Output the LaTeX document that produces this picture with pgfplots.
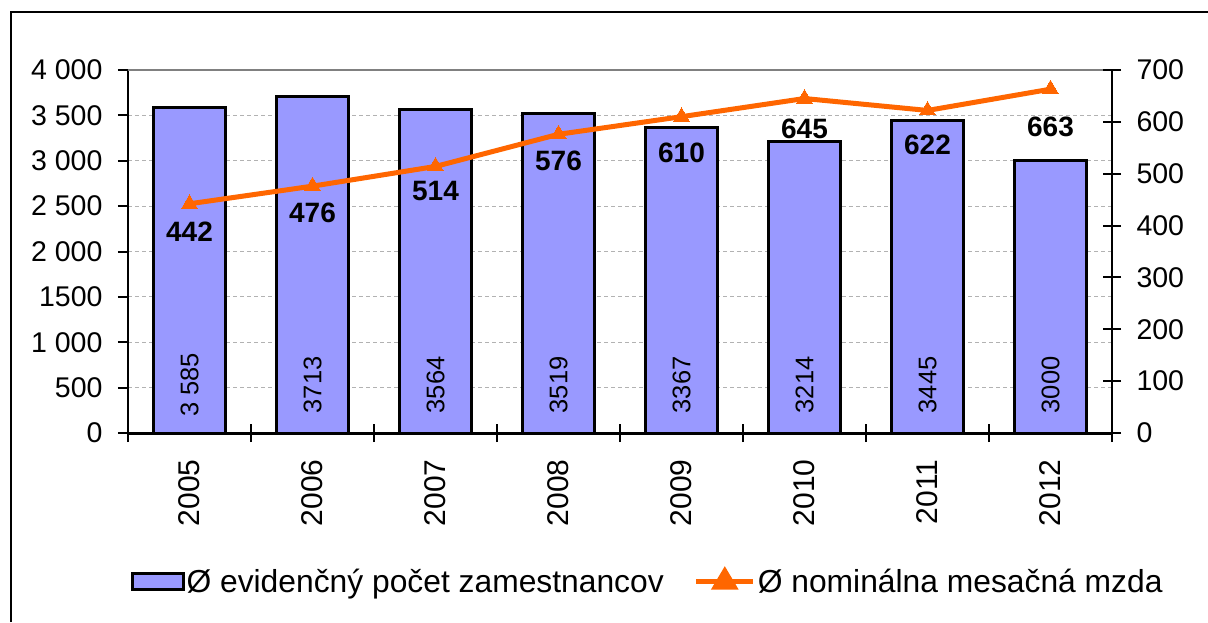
\documentclass[border=0pt]{standalone}
\usepackage{pgfplots}
\pgfplotsset{compat=1.18}
\usepackage{fontspec}
\setmainfont{Liberation Sans}
\definecolor{barfill}{HTML}{9999FF}
\definecolor{lineor}{HTML}{FF6600}
\begin{document}
\begin{tikzpicture}[x=1pt,y=1pt]
\path[use as bounding box] (0,0) rectangle (1208,622);
\draw[line width=2.5pt] (11,0) -- (11,610) -- (1208,610);
\begin{axis}[
  at={(128pt,189pt)}, anchor=south west, scale only axis,
  width=984pt, height=363pt,
  xmin=-0.5, xmax=7.5, ymin=0, ymax=4000,
  axis x line*=bottom, axis y line*=left,
  x axis line style={-, line width=3pt, black},
  y axis line style={-, line width=2pt, black},
  xtick=\empty,
  ytick={0,500,...,4000},
  yticklabels={0,500,1 000,1500,2 000,2 500,3 000,3 500,4 000},
  tick align=outside, major tick length=10pt,
  tick style={black, line width=2pt},
  yticklabel style={font=\fontsize{28.5}{30}\selectfont},
  yticklabel shift=12pt,
  ymajorgrids, grid style={dash pattern=on 4pt off 3pt, black!30, line width=1pt},
  clip=false,
]
\draw[black!50, line width=2pt] (rel axis cs:0,1) -- (rel axis cs:1,1);
\draw[black!50, line width=1.5pt] (rel axis cs:1,0) -- (rel axis cs:1,1);
\addplot[ybar, bar width=72pt, fill=barfill, draw=black, line width=3pt]
  coordinates {(0,3585) (1,3713) (2,3564) (3,3519) (4,3367) (5,3214) (6,3445) (7,3000)};
\begin{scope}[every node/.style={rotate=90, font=\fontsize{25.5}{27}\selectfont}]
\node at (axis cs:0,530) {3 585};
\node at (axis cs:1,530) {3713};
\node at (axis cs:2,530) {3564};
\node at (axis cs:3,530) {3519};
\node at (axis cs:4,530) {3367};
\node at (axis cs:5,530) {3214};
\node at (axis cs:6,530) {3445};
\node at (axis cs:7,530) {3000};
\end{scope}
\end{axis}
\begin{axis}[
  at={(128pt,189pt)}, anchor=south west, scale only axis,
  width=984pt, height=363pt,
  xmin=-0.5, xmax=7.5, ymin=0, ymax=700,
  axis y line*=right, axis x line*=bottom,
  x axis line style={-, line width=3pt, black},
  y axis line style={-, line width=2pt, black},
  xtick={-0.5,0.5,...,7.5}, x tick label as interval,
  xticklabels={2005,2006,2007,2008,2009,2010,2011,2012},
  ytick={0,100,...,700},
  /pgf/number format/assume math mode=true,
  tick align=center, major tick length=18pt,
  tick style={black, line width=2pt},
  xticklabel style={rotate=90, anchor=east, font=\fontsize{30}{32}\selectfont},
  xticklabel shift=14pt,
  yticklabel style={font=\fontsize{28.5}{30}\selectfont},
  yticklabel shift=12pt,
  clip=false,
  legend columns=2,
  legend style={at={(0.528,-0.408)}, anchor=center, draw=none, fill=none,
    font=\fontsize{31.8}{34}\selectfont,
    /tikz/every even column/.append style={column sep=28pt},
    inner sep=0pt},
]
\addlegendimage{legend image code/.code={\draw[fill=barfill, draw=black, line width=3pt] (0pt,-8pt) rectangle (51pt,8pt);}}
\addlegendentry{Ø evidenčný počet zamestnancov}
\addplot[lineor, line width=5pt, mark=triangle*, mark size=9pt, mark options={solid, fill=lineor, draw=lineor, line width=0pt},
  legend image code/.code={\draw[lineor, line width=5pt] (0pt,0pt) -- (57pt,0pt);
     \fill[lineor] (28.5pt,10pt) -- (19pt,-6pt) -- (38pt,-6pt) -- cycle;}]
  coordinates {(0,442) (1,476) (2,514) (3,576) (4,610) (5,645) (6,622) (7,663)};
\addlegendentry{Ø nominálna mesačná mzda}
\begin{scope}[every node/.style={font=\bfseries\fontsize{28}{30}\selectfont, anchor=center}]
\node at (axis cs:0,388) {442};
\node at (axis cs:1,424) {476};
\node at (axis cs:2,466) {514};
\node at (axis cs:3,524) {576};
\node at (axis cs:4,540) {610};
\node at (axis cs:5,587) {645};
\node at (axis cs:6,556) {622};
\node at (axis cs:7,590) {663};
\end{scope}
\end{axis}
\end{tikzpicture}
\end{document}
